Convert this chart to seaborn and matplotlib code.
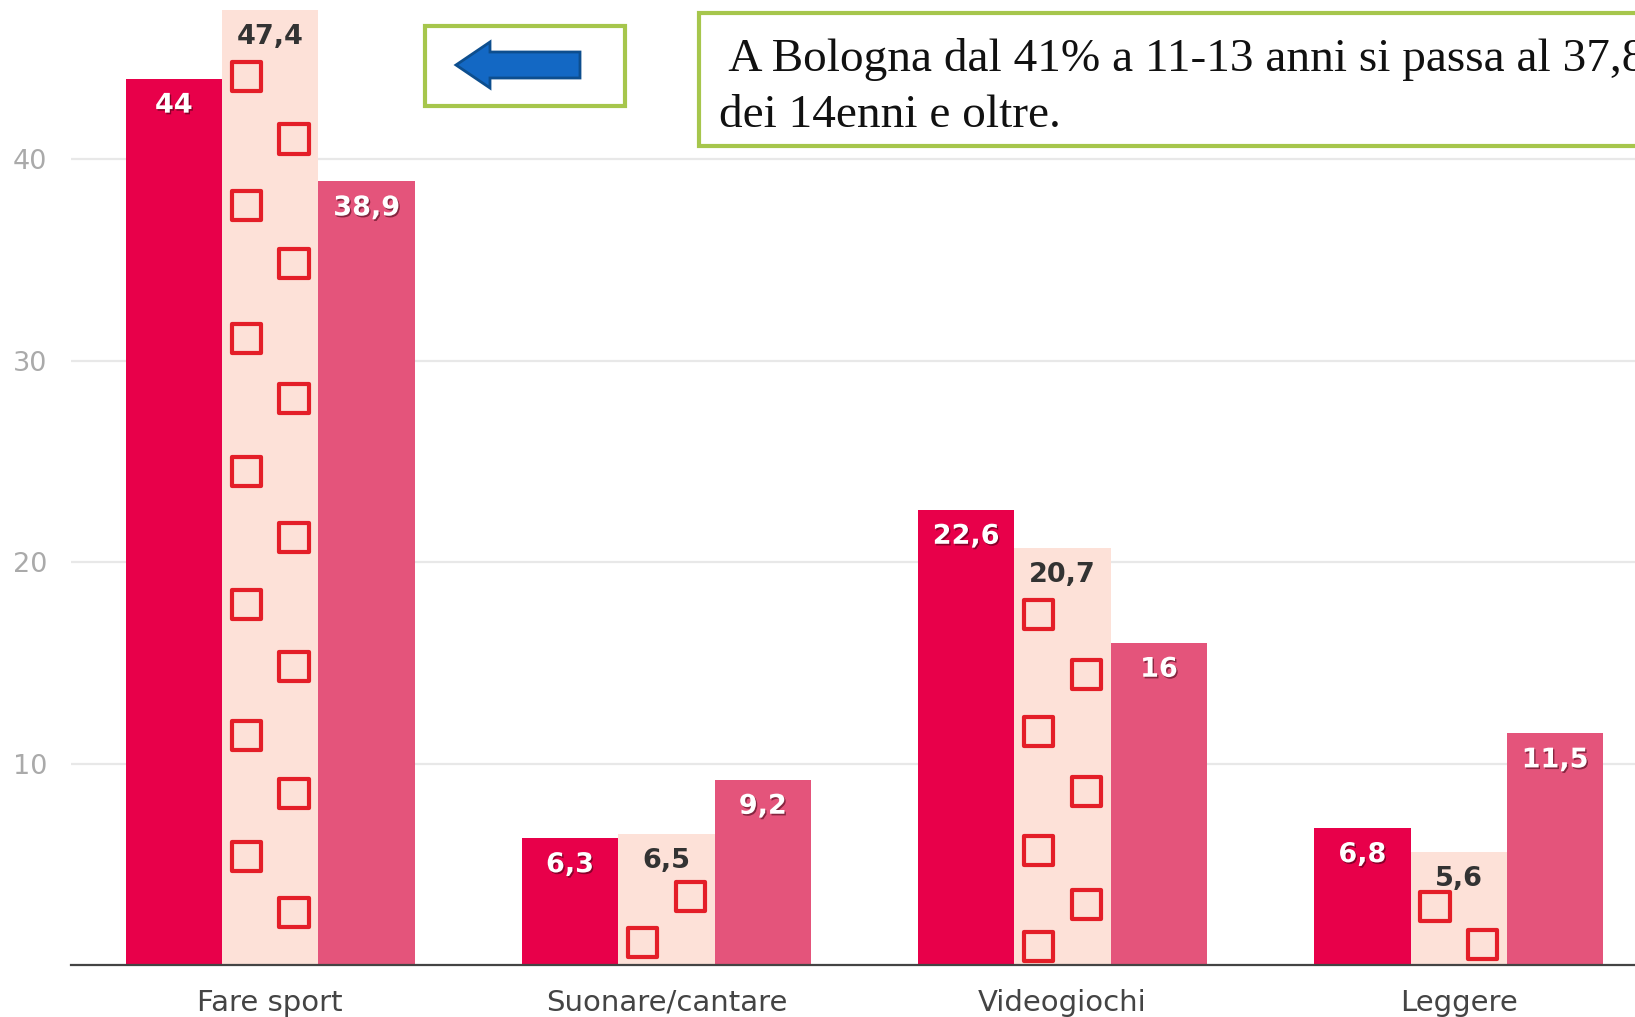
import numpy as np
import pandas as pd
import matplotlib
matplotlib.use('Agg')
import matplotlib.pyplot as plt
import matplotlib.patheffects as pe
from matplotlib.patches import Rectangle, FancyArrow
import seaborn as sns

## chart data
categories = ['Fare sport', 'Suonare/cantare', 'Videogiochi', 'Leggere']
series_names = ['Serie 1', 'Serie 2', 'Serie 3']
serie1 = [44, 6.3, 22.6, 6.8]
serie2 = [47.4, 6.5, 20.7, 5.6]
serie3 = [38.9, 9.2, 16, 11.5]
y_ticks = [10, 20, 30, 40]

## hollow red squares drawn over the middle bars (category, side, value)
square_cat = [0]*14 + [1]*2 + [2]*7 + [3]*2
square_side = [-1, 1, -1, 1, -1, 1, -1, 1, -1, 1, -1, 1, -1, 1,
               -1, 1,
               -1, 1, -1, 1, -1, 1, -1,
               -1, 1]
square_val = [44.1, 41.0, 37.7, 34.8, 31.1, 28.1, 24.5, 21.2, 17.9, 14.8, 11.4, 8.5, 5.4, 2.6,
              1.1, 3.4,
              17.4, 14.4, 11.6, 8.6, 5.7, 3.0, 0.9,
              2.9, 1.0]

colors = ['#E8004A', '#FDE1D8', '#E4547B']

df = pd.DataFrame({
    'categoria': categories * 3,
    'serie': np.repeat(series_names, len(categories)),
    'valore': serie1 + serie2 + serie3,
})

W, H = 1635, 1017
fig = plt.figure(figsize=(W/100, H/100), dpi=100)
ax = fig.add_axes([71/W, (H-965)/H, 1 - 71/W, 965/H])

sns.barplot(data=df, x='categoria', y='valore', hue='serie', palette=colors,
            saturation=1, width=0.73, gap=0, legend=False, ax=ax, zorder=2)

ax.set_xlim(-0.503, 3.445)
ax.set_ylim(0, 47.9)
ax.set_yticks(y_ticks)
ax.set_yticklabels([str(t) for t in y_ticks], fontsize=19.5, color='#AAAAAA')
ax.tick_params(axis='y', length=0, pad=17)
ax.tick_params(axis='x', length=0, pad=17, labelsize=21, labelcolor='#444444')
ax.set_xlabel('')
ax.set_ylabel('')
ax.grid(axis='y', color='#E8E8E8', lw=1.6)
ax.set_axisbelow(True)
for s in ['top', 'right', 'left']:
    ax.spines[s].set_visible(False)
ax.spines['bottom'].set_color('#444444')
ax.spines['bottom'].set_linewidth(1.6)
ax.spines['bottom'].set_zorder(5)

## squares
xs = np.array(square_cat) + 0.06 * np.array(square_side)
ax.scatter(xs, square_val, marker='s', s=21**2, facecolors='none',
           edgecolors='#E41E28', linewidths=3, zorder=4)

## value labels
shadow = [pe.SimplePatchShadow(offset=(1, -1.2), shadow_rgbFace='#3a0010', alpha=0.55), pe.Normal()]
for i, cont in enumerate(ax.containers):
    for bar in cont:
        h = bar.get_height()
        txt = ('%g' % h).replace('.', ',')
        if i == 1:
            kw = dict(color='#333333')
        else:
            kw = dict(color='white', path_effects=shadow)
        ax.annotate(txt, (bar.get_x() + bar.get_width()/2, h), xytext=(0, -19.5),
                    textcoords='offset points', ha='center', va='center',
                    fontsize=19.5, fontweight='bold', zorder=6, **kw)

## overlay for the note boxes
ov = fig.add_axes([0, 0, 1, 1], facecolor='none')
ov.set_xlim(0, W)
ov.set_ylim(H, 0)
ov.axis('off')
ov.add_patch(Rectangle((425, 26), 200, 80, fill=True, facecolor='white',
                       edgecolor='#A6C64C', lw=3))
ov.add_patch(FancyArrow(580, 65, -124, 0, width=26, head_width=46, head_length=34,
                        length_includes_head=True, facecolor='#1368C4',
                        edgecolor='#0D4E8E', lw=2))
ov.add_patch(Rectangle((699, 12.5), 1000, 133.5, fill=True, facecolor='white',
                       edgecolor='#A6C64C', lw=3))
ov.text(719, 71, ' A Bologna dal 41% a 11-13 anni si passa al 37,8%', fontsize=34,
        family='Liberation Serif', va='baseline', ha='left', color='#111111')
ov.text(719, 127, 'dei 14enni e oltre.', fontsize=34,
        family='Liberation Serif', va='baseline', ha='left', color='#111111')

fig.savefig('out.png', dpi=100)
